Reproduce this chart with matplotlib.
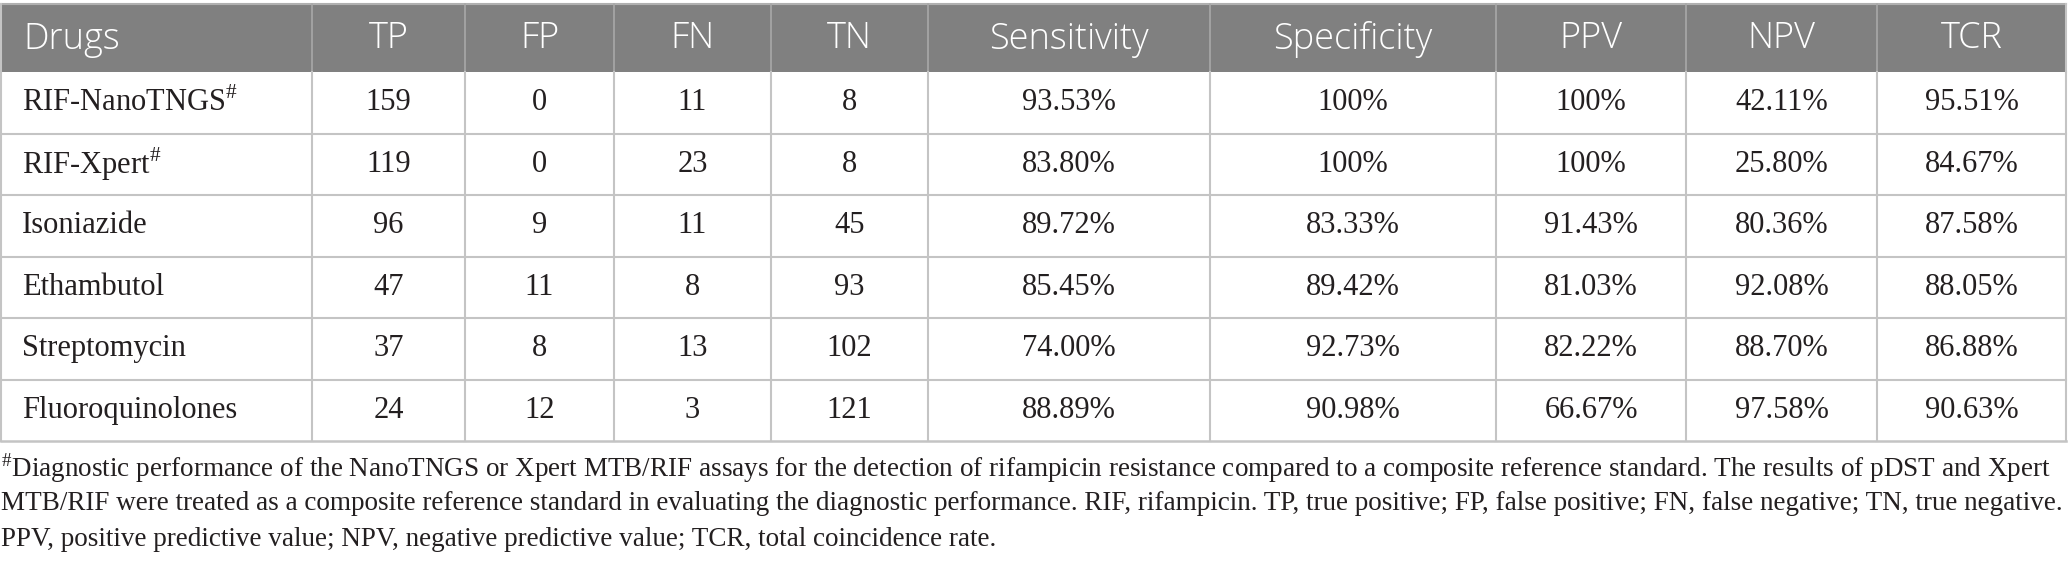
import matplotlib
matplotlib.use("Agg")
import matplotlib.pyplot as plt
from matplotlib.patches import Rectangle

plt.rcParams["mathtext.fontset"] = "custom"
plt.rcParams["mathtext.rm"] = "Liberation Serif"

columns = ["Drugs", "TP", "FP", "FN", "TN", "Sensitivity", "Specificity",
           "PPV", "NPV", "TCR"]
drugs = ["RIF-NanoTNGS", "RIF-Xpert", "Isoniazide", "Ethambutol",
         "Streptomycin", "Fluoroquinolones"]
marked = [True, True, False, False, False, False]
tp = [159, 119, 96, 47, 37, 24]
fp = [0, 0, 9, 11, 8, 12]
fn = [11, 23, 11, 8, 13, 3]
tn = [8, 8, 45, 93, 102, 121]
sensitivity = [93.53, 83.80, 89.72, 85.45, 74.00, 88.89]
specificity = [100, 100, 83.33, 89.42, 92.73, 90.98]
ppv = [100, 100, 91.43, 81.03, 82.22, 66.67]
npv = [42.11, 25.80, 80.36, 92.08, 88.70, 97.58]
tcr = [95.51, 84.67, 87.58, 88.05, 86.88, 90.63]

footnote = [
    "$^{\\#}$Diagnostic performance of the NanoTNGS or Xpert MTB/RIF assays for the detection "
    "of rifampicin resistance compared to a composite reference standard. The results of pDST and Xpert",
    "MTB/RIF were treated as a composite reference standard in evaluating the diagnostic performance. "
    "RIF, rifampicin. TP, true positive; FP, false positive; FN, false negative; TN, true negative.",
    "PPV, positive predictive value; NPV, negative predictive value; TCR, total coincidence rate.",
]

# layout in pixels
W, H = 2068, 568
col_edges = [1, 312, 465, 614, 771, 928, 1210, 1496, 1686, 1877, 2066]
head_top, head_bot = 4, 72
row_h = (441 - head_bot) / len(drugs)
grey = "#808080"
line_c = "#c4c4c4"
ink = "#231f20"


def pct(v):
    return "100%" if v == 100 else f"{v:.2f}%"


fig = plt.figure(figsize=(W / 100, H / 100), dpi=100)
ax = fig.add_axes([0, 0, 1, 1])
ax.set_xlim(0, W)
ax.set_ylim(H, 0)
ax.axis("off")

# header band
ax.add_patch(Rectangle((col_edges[0], head_top), col_edges[-1] - col_edges[0],
                       head_bot - head_top, facecolor=grey, edgecolor="none"))
for i, name in enumerate(columns):
    x0, x1 = col_edges[i], col_edges[i + 1]
    if i == 0:
        ax.text(x0 + 22, (head_top + head_bot) / 2 + 1, name, ha="left", va="center",
                color="white", fontsize=26, family="Open Sans", fontweight="light")
    else:
        ax.text((x0 + x1) / 2, (head_top + head_bot) / 2 + 1, name, ha="center",
                va="center", color="white", fontsize=26, family="Open Sans",
                fontweight="light")

# body cells
rows = []
for k in range(len(drugs)):
    label = drugs[k] + ("$^{\\#}$" if marked[k] else "")
    rows.append([label, str(tp[k]), str(fp[k]), str(fn[k]), str(tn[k]),
                 pct(sensitivity[k]), pct(specificity[k]), pct(ppv[k]),
                 pct(npv[k]), pct(tcr[k])])

for r, cells in enumerate(rows):
    yc = head_bot + row_h * (r + 0.5)
    for i, s in enumerate(cells):
        x0, x1 = col_edges[i], col_edges[i + 1]
        if i == 0:
            ax.text(x0 + 21, yc, s, ha="left", va="center", color=ink,
                    fontsize=22, family="Liberation Serif")
        else:
            ax.text((x0 + x1) / 2, yc, s, ha="center", va="center", color=ink,
                    fontsize=22, family="Liberation Serif")

# grid lines
table_bot = head_bot + row_h * len(drugs)
for r in range(1, len(drugs)):
    y = head_bot + row_h * r
    ax.plot([col_edges[0], col_edges[-1]], [y, y], color=line_c, lw=1.5)
ax.plot([col_edges[0], col_edges[-1]], [table_bot, table_bot], color=line_c, lw=1.8)
ax.plot([col_edges[0], col_edges[-1]], [head_top, head_top], color="#b0b0b0", lw=1.5)
for i, x in enumerate(col_edges):
    if 0 < i < len(col_edges) - 1:
        ax.plot([x, x], [head_top, head_bot], color="#a8a8a8", lw=1.2)
    else:
        ax.plot([x, x], [head_top, head_bot], color=line_c, lw=1.5)
    ax.plot([x, x], [head_bot, table_bot], color=line_c, lw=1.5)

# footnote
for j, line in enumerate(footnote):
    ax.text(1, 468 + 36 * j, line, ha="left", va="center", color=ink,
            fontsize=19.5, family="Liberation Serif")

fig.savefig("out.png", dpi=100)
